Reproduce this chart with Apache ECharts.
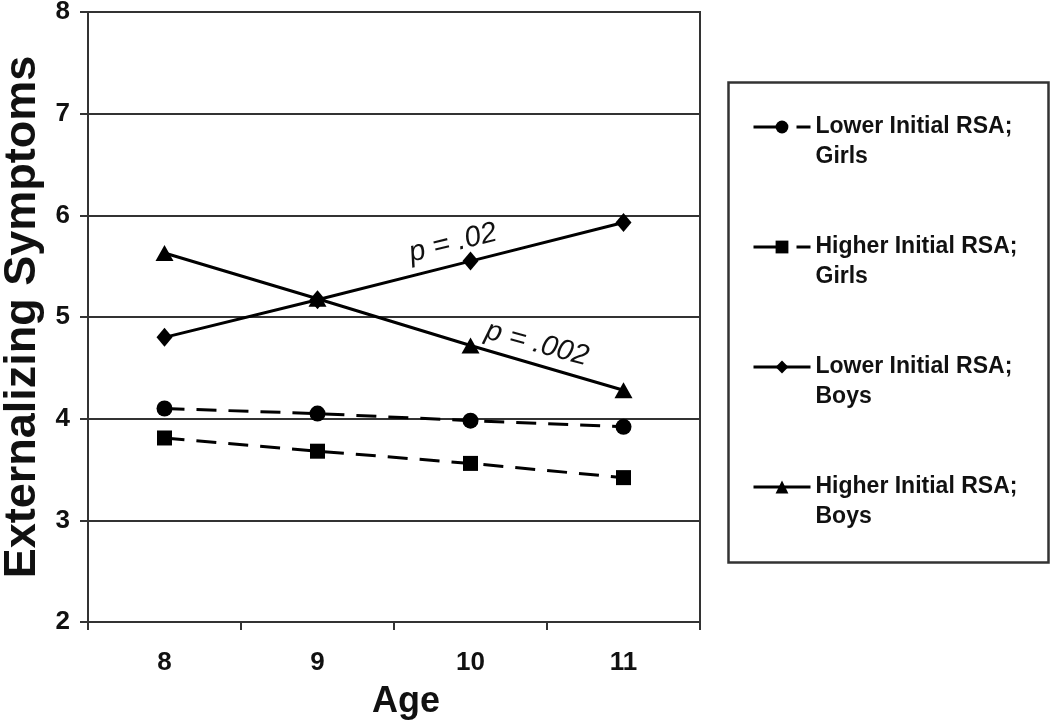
<!DOCTYPE html>
<html>
<head>
<meta charset="utf-8">
<script src="https://cdn.jsdelivr.net/npm/echarts@6/dist/echarts.min.js"></script>
<style>
  html, body { margin: 0; padding: 0; background: #fff; }
  #chart { width: 1050px; height: 725px; }
</style>
</head>
<body>
<div id="chart"></div>
<script>
const ages = ['8', '9', '10', '11'];
const seriesNames = [
  'Lower Initial RSA; Girls',
  'Higher Initial RSA; Girls',
  'Lower Initial RSA; Boys',
  'Higher Initial RSA; Boys'
];
const lowerGirls  = [4.10, 4.05, 3.98, 3.92];
const higherGirls = [3.81, 3.68, 3.56, 3.42];
const lowerBoys   = [4.80, 5.17, 5.55, 5.93];
const higherBoys  = [5.63, 5.18, 4.72, 4.28];
const yTicks = { min: 2, max: 8, interval: 1 };
const annotations = ['p = .02', 'p = .002'];

const FONT = '"Liberation Sans", Arial, Helvetica, sans-serif';
const chart = echarts.init(document.getElementById('chart'), null, { renderer: 'canvas' });

function lineSeries(name, data, symbol, size, dashed) {
  return {
    name: name,
    type: 'line',
    data: data,
    symbol: symbol,
    symbolSize: size,
    showAllSymbol: true,
    itemStyle: { color: '#000' },
    lineStyle: { color: '#000', width: 3, type: dashed ? [20, 12] : 'solid' },
    emphasis: { disabled: true },
    z: 3
  };
}

function legendItem(name, dashed) {
  return {
    name: name,
    lineStyle: { color: '#000', width: 3, type: dashed ? [30, 13] : 'solid' },
    itemStyle: { color: '#000' }
  };
}

chart.setOption({
  animation: false,
  backgroundColor: '#fff',
  grid: {
    left: 88, top: 12, width: 612, height: 610,
    containLabel: false,
    outerBoundsMode: 'none',
    show: true, borderColor: '#333', borderWidth: 2, backgroundColor: 'transparent'
  },
  xAxis: {
    type: 'category',
    data: ages,
    boundaryGap: true,
    name: 'Age',
    nameLocation: 'middle',
    nameGap: 62,
    nameTextStyle: { fontFamily: FONT, fontWeight: 'bold', fontSize: 36, color: '#111', padding: [0, 0, 0, 24] },
    axisLine: { show: true, lineStyle: { color: '#333', width: 2 } },
    axisTick: { show: true, length: 8, alignWithLabel: false, lineStyle: { color: '#333', width: 2 } },
    axisLabel: { fontFamily: FONT, fontWeight: 'bold', fontSize: 26, color: '#111', margin: 28 },
    splitLine: { show: false }
  },
  yAxis: {
    type: 'value',
    min: yTicks.min, max: yTicks.max, interval: yTicks.interval,
    name: 'Externalizing Symptoms',
    nameLocation: 'middle',
    nameGap: 42,
    nameTextStyle: { fontFamily: FONT, fontWeight: 'bold', fontSize: 45, color: '#111' },
    axisLine: { show: true, lineStyle: { color: '#333', width: 2 } },
    axisTick: { show: true, length: 8, lineStyle: { color: '#333', width: 2 } },
    axisLabel: { fontFamily: FONT, fontWeight: 'bold', fontSize: 26, color: '#111', margin: 18 },
    splitLine: { show: true, lineStyle: { color: '#333', width: 2 } }
  },
  legend: {
    orient: 'vertical',
    left: 752,
    top: 82,
    padding: 0,
    itemGap: 30,
    itemWidth: 57,
    itemHeight: 16,
    selectedMode: false,
    data: [
      legendItem(seriesNames[0], true),
      legendItem(seriesNames[1], true),
      legendItem(seriesNames[2], false),
      legendItem(seriesNames[3], false)
    ],
    formatter: function (n) { return '\n' + n.replace('; ', ';\n'); },
    textStyle: {
      fontFamily: FONT, fontWeight: 'bold', fontSize: 23, color: '#111',
      lineHeight: 30
    }
  },
  graphic: [
    {
      type: 'rect',
      left: 726, top: 80,
      shape: { width: 320, height: 480 },
      style: { fill: 'none', stroke: '#333', lineWidth: 2.5 },
      silent: true, z: 0
    },
    {
      type: 'text',
      x: 453, y: 243,
      rotation: 14 * Math.PI / 180,
      style: {
        text: annotations[0], fontFamily: FONT, fontStyle: 'italic', fontSize: 29,
        fill: '#111', align: 'center', verticalAlign: 'middle'
      },
      z: 10
    },
    {
      type: 'text',
      x: 537, y: 344,
      rotation: -15 * Math.PI / 180,
      style: {
        text: annotations[1], fontFamily: FONT, fontStyle: 'italic', fontSize: 29,
        fill: '#111', align: 'center', verticalAlign: 'middle'
      },
      z: 10
    }
  ],
  series: [
    lineSeries(seriesNames[0], lowerGirls, 'circle', 16, true),
    lineSeries(seriesNames[1], higherGirls, 'rect', 15, true),
    lineSeries(seriesNames[2], lowerBoys, 'diamond', [16, 19], false),
    lineSeries(seriesNames[3], higherBoys, 'triangle', [18, 16], false)
  ]
});
</script>
</body>
</html>
